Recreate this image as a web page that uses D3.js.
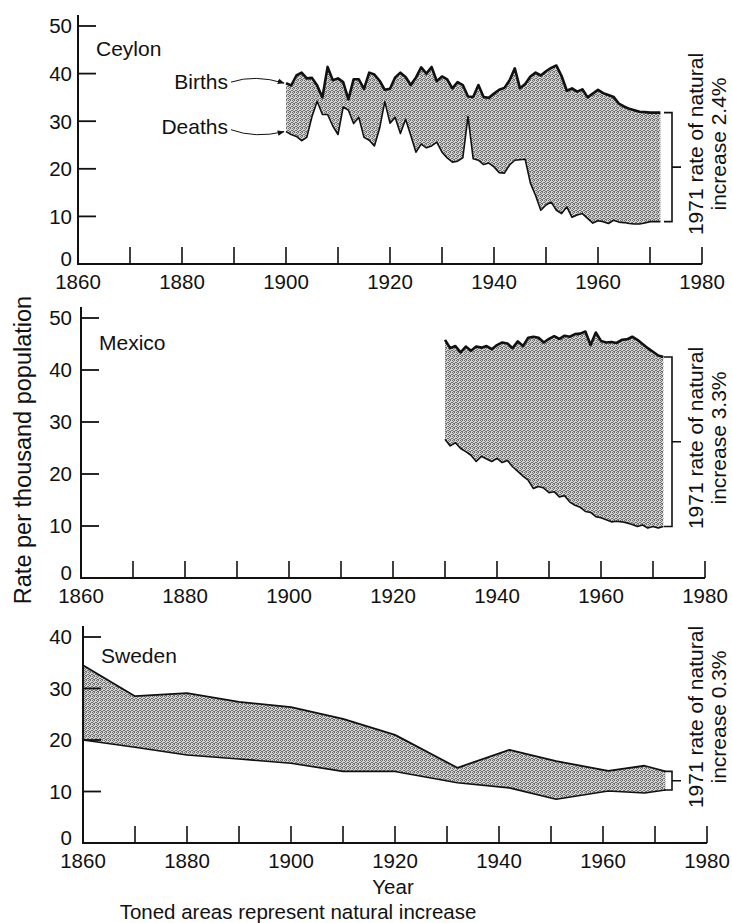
<!DOCTYPE html>
<html>
<head>
<meta charset="utf-8">
<script src="https://cdn.jsdelivr.net/npm/d3@7"></script>
<style>
  html, body { margin: 0; padding: 0; background: #fff; }
  svg { display: block; }
  text { font-family: "Liberation Sans", Arial, Helvetica, sans-serif; fill: #111; }
</style>
</head>
<body>
<svg id="chart" width="732" height="923"></svg>
<script>
// Crude birth and death rates per thousand population

const ceylonYears = d3.range(1900, 1973);
const ceylonBirths = [
  38.0, 37.5, 39.6, 40.2, 39.0, 39.1, 37.5, 35.0, 41.4, 38.6,
  39.0, 38.2, 34.6, 38.8, 38.8, 36.8, 40.2, 39.8, 38.5, 36.6,
  36.8, 39.2, 40.2, 39.3, 37.6, 39.2, 41.3, 40.0, 41.4, 38.4,
  39.4, 38.8, 36.9, 38.2, 37.6, 35.2, 35.1, 37.6, 35.1, 34.9,
  35.8, 36.6, 37.0, 38.6, 41.1, 36.9, 37.8, 39.4, 40.2, 39.6,
  40.5, 41.2, 41.7, 39.5, 36.4, 36.9, 36.2, 36.7, 35.0, 35.8,
  36.6, 35.9, 35.5, 35.1, 33.7, 33.1, 32.6, 32.3, 32.0, 31.9,
  31.8, 31.8, 31.8
];
const ceylonDeaths = [
  27.8, 27.2, 26.8, 25.9, 26.6, 31.0, 34.2, 31.4, 31.4, 29.0,
  27.2, 33.0, 32.3, 29.5, 30.8, 26.6, 26.0, 24.8, 28.5, 34.1,
  29.6, 30.8, 27.4, 30.4, 27.0, 23.5, 25.2, 24.4, 24.8, 25.6,
  23.5, 22.3, 21.4, 21.6, 22.3, 31.0, 22.1, 21.8, 20.9, 21.2,
  20.4, 19.2, 19.1, 20.8, 21.8, 21.9, 22.0, 17.0, 14.4, 11.3,
  12.4, 13.0, 11.3, 10.6, 12.0, 9.8, 10.3, 10.6, 9.6, 8.6,
  9.1, 8.9, 8.5, 9.2, 8.8, 8.7, 8.5, 8.4, 8.4, 8.6,
  8.9, 8.9, 8.9
];

const mexicoYears = d3.range(1930, 1973);
const mexicoBirths = [
  45.8, 44.2, 44.6, 43.4, 44.5, 43.7, 44.5, 44.3, 44.6, 44.0,
  44.8, 45.3, 45.1, 44.2, 45.5, 44.6, 46.2, 46.4, 46.2, 45.3,
  46.0, 46.5, 46.0, 46.6, 46.4, 46.9, 47.0, 47.4, 44.8, 47.2,
  45.6, 45.3, 45.4, 45.2, 45.8, 45.9, 46.4, 45.8, 45.0, 44.2,
  43.5, 42.8, 42.5
];
const mexicoDeaths = [
  26.7, 25.4, 26.0, 24.9, 24.3, 23.6, 22.4, 23.4, 22.9, 22.4,
  23.0, 22.2, 22.6, 21.4, 20.5, 19.6, 18.8, 17.2, 17.6, 17.3,
  16.4, 16.6, 15.6, 15.8, 14.6, 14.0, 13.6, 12.8, 12.6, 11.8,
  11.6, 11.2, 10.8, 10.9, 10.8, 10.6, 10.3, 9.9, 10.2, 9.6,
  9.9, 9.6, 9.9
];

const swedenYears  = [1860, 1870, 1880, 1890, 1900, 1910, 1920, 1932, 1942, 1951, 1961, 1968, 1972];
const swedenBirths = [34.5, 28.5, 29.1, 27.4, 26.4, 24.1, 21.0, 14.6, 18.1, 15.9, 14.0, 15.0, 13.9];
const swedenDeaths = [20.0, 18.6, 17.1, 16.3, 15.5, 13.9, 13.9, 11.7, 10.7, 8.5, 10.1, 9.7, 10.3];

const xTickYears  = d3.range(1870, 1981, 10);
const xLabelYears = d3.range(1860, 1981, 20);
const increaseLabels = ["2.4%", "3.3%", "0.3%"];

// Panel frames
const panels = [
  { name: "Ceylon", years: ceylonYears, births: ceylonBirths, deaths: ceylonDeaths, yMax: 50,
    left: 78, right: 702, bottom: 264, top: 26, rate: increaseLabels[0], textY: 144, nameY: 56 },
  { name: "Mexico", years: mexicoYears, births: mexicoBirths, deaths: mexicoDeaths, yMax: 50,
    left: 81, right: 705, bottom: 578, top: 318, rate: increaseLabels[1], textY: 438, nameY: 350 },
  { name: "Sweden", years: swedenYears, births: swedenBirths, deaths: swedenDeaths, yMax: 40,
    left: 83, right: 707, bottom: 843, top: 637, rate: increaseLabels[2], textY: 717, nameY: 663 }
];
const bracketX = 672;

const svg = d3.select("#chart");

// Toned (stippled) fill for the natural increase band
const defs = svg.append("defs");
const pat = defs.append("pattern")
  .attr("id", "tone").attr("patternUnits", "userSpaceOnUse")
  .attr("width", 4).attr("height", 4);
pat.append("rect").attr("width", 4).attr("height", 4).attr("fill", "#d2d2d2");
[[0, 0], [2, 0], [1, 1], [3, 2], [0, 2], [2, 3], [1, 3]].forEach(([x, y]) =>
  pat.append("rect").attr("x", x).attr("y", y).attr("width", 1).attr("height", 1).attr("fill", "#707070"));

defs.append("marker")
  .attr("id", "arrow").attr("viewBox", "0 0 10 10")
  .attr("refX", 9).attr("refY", 5)
  .attr("markerWidth", 7).attr("markerHeight", 7)
  .attr("markerUnits", "userSpaceOnUse")
  .attr("orient", "auto")
  .append("path").attr("d", "M0,1 L10,5 L0,9 z").attr("fill", "#111");

panels.forEach((p, i) => {
  const xs = d3.scaleLinear().domain([1860, 1980]).range([p.left, p.right]);
  const ys = d3.scaleLinear().domain([0, p.yMax]).range([p.bottom, p.top]);
  const g = svg.append("g");
  const idx = d3.range(p.years.length);

  // band between births and deaths
  const area = d3.area()
    .x(j => xs(p.years[j]))
    .y0(j => ys(p.deaths[j]))
    .y1(j => ys(p.births[j]));
  g.append("path").datum(idx).attr("d", area).attr("fill", "url(#tone)");

  const line = acc => d3.line().x(j => xs(p.years[j])).y(j => ys(acc[j]));
  g.append("path").datum(idx).attr("d", line(p.deaths))
    .attr("fill", "none").attr("stroke", "#111").attr("stroke-width", 1.6)
    .attr("stroke-linejoin", "round");
  g.append("path").datum(idx).attr("d", line(p.births))
    .attr("fill", "none").attr("stroke", "#111").attr("stroke-width", i === 2 ? 1.8 : 2.6)
    .attr("stroke-linejoin", "round");

  // axes
  g.append("line")
    .attr("x1", xs(1860)).attr("x2", xs(1980))
    .attr("y1", ys(0)).attr("y2", ys(0))
    .attr("stroke", "#111").attr("stroke-width", 2);
  g.append("line")
    .attr("x1", xs(1860)).attr("x2", xs(1860))
    .attr("y1", ys(0) + 1).attr("y2", ys(p.yMax) - 11)
    .attr("stroke", "#111").attr("stroke-width", 2);

  g.selectAll(".xt").data(xTickYears).join("line")
    .attr("x1", d => xs(d)).attr("x2", d => xs(d))
    .attr("y1", ys(0)).attr("y2", ys(0) - 17)
    .attr("stroke", "#111").attr("stroke-width", 1.6);
  g.selectAll(".xl").data(xLabelYears).join("text")
    .attr("x", d => xs(d)).attr("y", ys(0) + 25)
    .attr("text-anchor", "middle").attr("font-size", 20.5)
    .text(d => d);

  const yTicks = d3.range(10, p.yMax + 1, 10);
  g.selectAll(".yt").data(yTicks).join("line")
    .attr("x1", xs(1860)).attr("x2", xs(1860) + 18)
    .attr("y1", d => ys(d)).attr("y2", d => ys(d))
    .attr("stroke", "#111").attr("stroke-width", 1.8);
  g.selectAll(".yl").data(d3.range(0, p.yMax + 1, 10)).join("text")
    .attr("x", 72).attr("y", d => ys(d) - (d === 0 ? 5 : 0))
    .attr("dy", "0.36em")
    .attr("text-anchor", "end").attr("font-size", 20.5)
    .text(d => d);

  // country name
  g.append("text").attr("x", xs(1860) + 18).attr("y", p.nameY)
    .attr("font-size", 21).text(p.name);

  // 1971 bracket
  const last = p.years.length - 1;
  const bx = bracketX;
  const bTop = ys(p.births[last]), bBot = ys(p.deaths[last]);
  g.append("path")
    .attr("d", `M${bx - 8},${bTop} H${bx} V${bBot} H${bx - 8} M${bx},${(bTop + bBot) / 2} H${bx + 9}`)
    .attr("fill", "none").attr("stroke", "#111").attr("stroke-width", 1.6);

  const t = g.append("text")
    .attr("transform", `translate(${bx + 31},${p.textY}) rotate(-90)`)
    .attr("text-anchor", "middle").attr("font-size", 21);
  t.append("tspan").attr("x", 0).attr("y", 0).text("1971 rate of natural");
  t.append("tspan").attr("x", 0).attr("y", 23).text("increase " + p.rate);

  // Births / Deaths pointers on the first panel
  if (i === 0) {
    const x0 = xs(p.years[0]);
    const by = ys(p.births[0]), dy = ys(p.deaths[0]);
    g.append("text").attr("x", 228).attr("y", by + 6)
      .attr("text-anchor", "end").attr("font-size", 21).text("Births");
    g.append("text").attr("x", 228).attr("y", dy + 2)
      .attr("text-anchor", "end").attr("font-size", 21).text("Deaths");
    g.append("path")
      .attr("d", `M231,${by - 1} Q255,${by - 9} ${x0 - 2},${by}`)
      .attr("fill", "none").attr("stroke", "#111").attr("stroke-width", 1)
      .attr("marker-end", "url(#arrow)");
    g.append("path")
      .attr("d", `M231,${dy - 2} Q255,${dy + 7} ${x0 - 2},${dy}`)
      .attr("fill", "none").attr("stroke", "#111").attr("stroke-width", 1)
      .attr("marker-end", "url(#arrow)");
  }
});

// shared titles
svg.append("text")
  .attr("transform", "translate(31,450) rotate(-90)")
  .attr("text-anchor", "middle").attr("font-size", 23.5)
  .text("Rate per thousand population");
svg.append("text").attr("x", 393).attr("y", 894)
  .attr("text-anchor", "middle").attr("font-size", 20.5).text("Year");
svg.append("text").attr("x", 298).attr("y", 919)
  .attr("text-anchor", "middle").attr("font-size", 20.5)
  .text("Toned areas represent natural increase");
</script>
</body>
</html>
